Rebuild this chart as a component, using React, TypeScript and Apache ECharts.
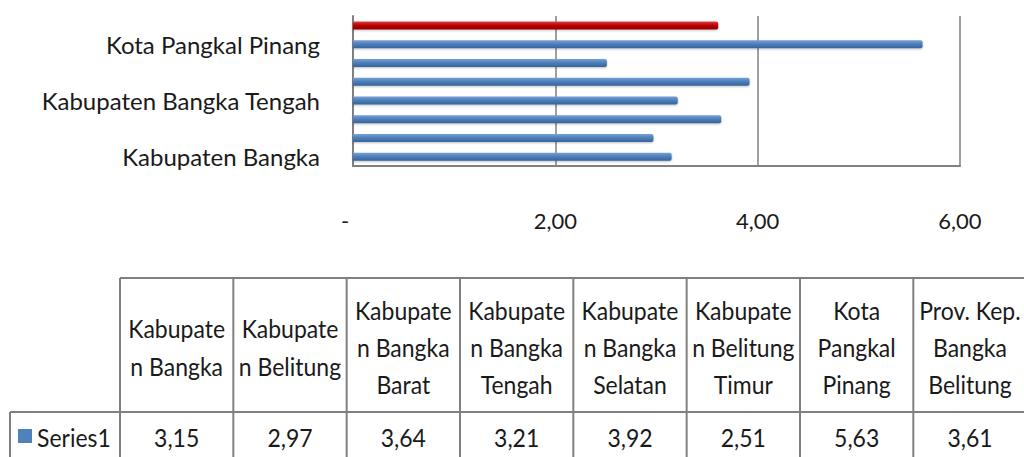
import React, { useEffect, useRef } from "react";
import * as echarts from "echarts";

const categories = [
  "Kabupaten Bangka",
  "Kabupaten Belitung",
  "Kabupaten Bangka Barat",
  "Kabupaten Bangka Tengah",
  "Kabupaten Bangka Selatan",
  "Kabupaten Belitung Timur",
  "Kota Pangkal Pinang",
  "Prov. Kep. Bangka Belitung",
];
const values = [3.15, 2.97, 3.64, 3.21, 3.92, 2.51, 5.63, 3.61];
const headerLabels = [
  "Kabupate\nn Bangka",
  "Kabupate\nn Belitung",
  "Kabupate\nn Bangka\nBarat",
  "Kabupate\nn Bangka\nTengah",
  "Kabupate\nn Bangka\nSelatan",
  "Kabupate\nn Belitung\nTimur",
  "Kota\nPangkal\nPinang",
  "Prov. Kep.\nBangka\nBelitung",
];
const seriesName = "Series1";
const highlightIndex = 7;
const xMin = 0;
const xMax = 6;
const xInterval = 2;

const FONT = "Lato";
const TEXT = "#1a1a1a";
const GRIDC = "#808080";

const fmt = (v: number) => (v === 0 ? "-" : v.toFixed(2).replace(".", ","));

const blueGrad = new echarts.graphic.LinearGradient(0, 0, 0, 1, [
  { offset: 0, color: "#7aa3d6" },
  { offset: 0.45, color: "#4f81bd" },
  { offset: 1, color: "#36649b" },
]);
const redGrad = new echarts.graphic.LinearGradient(0, 0, 0, 1, [
  { offset: 0, color: "#e04848" },
  { offset: 0.45, color: "#c00000" },
  { offset: 1, color: "#900000" },
]);

function buildTable(): any[] {
  const els: any[] = [];
  const colLeft = 120;
  const colW = 113.33;
  const top = 278;
  const mid = 412;
  const bottom = 460;
  const ls = { stroke: "#808080", lineWidth: 2 };
  els.push({ type: "line", shape: { x1: colLeft, y1: top, x2: 1024, y2: top }, style: ls });
  els.push({ type: "line", shape: { x1: 10, y1: mid, x2: 1024, y2: mid }, style: ls });
  els.push({ type: "line", shape: { x1: 10, y1: mid, x2: 10, y2: bottom }, style: ls });
  for (let i = 0; i <= categories.length; i++) {
    const x = colLeft + i * colW;
    els.push({ type: "line", shape: { x1: x, y1: top, x2: x, y2: bottom }, style: ls });
  }
  categories.forEach((_, i) => {
    const cx = colLeft + (i + 0.5) * colW;
    els.push({
      type: "text",
      x: cx,
      y: 347,
      scaleY: 1.1,
      style: {
        text: headerLabels[i],
        font: `23px ${FONT}`,
        fill: TEXT,
        align: "center",
        verticalAlign: "middle",
        lineHeight: 34,
      },
    });
    els.push({
      type: "text",
      x: cx,
      y: 437,
      scaleY: 1.1,
      style: {
        text: fmt(values[i]),
        font: `23px ${FONT}`,
        fill: TEXT,
        align: "center",
        verticalAlign: "middle",
      },
    });
  });
  els.push({ type: "rect", shape: { x: 18, y: 429, width: 14, height: 14 }, style: { fill: "#4f81bd" } });
  els.push({
    type: "text",
    x: 37,
    y: 437,
    scaleY: 1.1,
    style: { text: seriesName, font: `23px ${FONT}`, fill: TEXT, align: "left", verticalAlign: "middle" },
  });
  return els;
}

export default function App() {
  const ref = useRef<HTMLDivElement>(null);
  useEffect(() => {
    if (!ref.current) return;
    const chart = echarts.init(ref.current, undefined, { renderer: "svg" });
    chart.setOption({
      animation: false,
      backgroundColor: "#ffffff",
      grid: { left: 353, right: 64, top: 16, bottom: 291, containLabel: false },
      xAxis: {
        type: "value",
        min: xMin,
        max: xMax,
        interval: xInterval,
        axisLine: { show: true, lineStyle: { color: GRIDC, width: 2 } },
        axisTick: { show: false },
        splitLine: { show: true, lineStyle: { color: GRIDC, width: 1.5 } },
        axisLabel: {
          formatter: (v: number) => (v === 0 ? "{dash|-}" : fmt(v)),
          margin: 43,
          fontFamily: FONT,
          fontSize: 22,
          color: TEXT,
          rich: {
            dash: { fontFamily: FONT, fontSize: 22, color: TEXT, padding: [0, 16, 0, 0] },
          },
        },
      },
      yAxis: {
        type: "category",
        data: categories,
        axisLine: { show: true, lineStyle: { color: GRIDC, width: 2 } },
        axisTick: { show: false },
        axisLabel: {
          interval: 2,
          margin: 33,
          fontFamily: FONT,
          fontSize: 24,
          color: TEXT,
          padding: [10, 0, 0, 0],
        },
      },
      series: [
        {
          name: seriesName,
          type: "bar",
          barWidth: 8,
          data: values.map((v, i) => ({
            value: v,
            itemStyle: {
              color: i === highlightIndex ? redGrad : blueGrad,
              borderRadius: [0, 2, 2, 0],
              shadowColor: "rgba(0,0,0,0.25)",
              shadowBlur: 2,
              shadowOffsetY: 1,
            },
          })),
        },
      ],
      graphic: buildTable(),
    });
    return () => chart.dispose();
  }, []);
  return (
    <div
      ref={ref}
      style={{ position: "fixed", left: 0, top: 0, width: 1024, height: 457 }}
    />
  );
}
